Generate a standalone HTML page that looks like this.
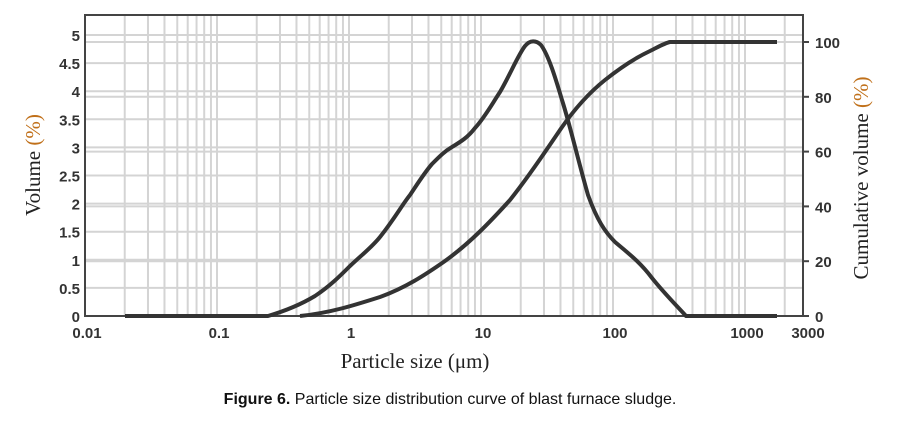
<!DOCTYPE html>
<html><head><style>
body{margin:0;background:#fff;}
svg text{font-family:"Liberation Sans",sans-serif;}
svg text.serif{font-family:"Liberation Serif",serif;}
</style></head><body>
<svg width="902" height="418" viewBox="0 0 902 418" xmlns="http://www.w3.org/2000/svg">
<g stroke="#d4d4d4" stroke-width="2" id="grid"></g>
<rect x="85" y="15" width="718" height="301" fill="none" stroke="#444" stroke-width="2"/>
<g id="ticks" stroke="#444" stroke-width="2"></g>
<g id="lab" font-size="15" font-weight="bold" fill="#333"></g>
<path d="M125,316 L268,316 C285,311 300,305 315,296 C330,286 340,276 350,266 C365,252 372,247 380,237 C395,218 402,205 410,195 C420,180 425,172 432,164 C440,156 445,151 452,147 C462,141 468,137 475,128 C485,117 492,104 500,92 C510,75 518,55 525,46 C530,40 536,40 541,45 C549,56 556,80 562,100 C570,125 578,160 588,195 C597,220 605,232 615,242 C628,253 640,262 652,278 C664,293 676,305 686,316 L777,316"
 fill="none" stroke="#333" stroke-width="4" stroke-linejoin="round"/>
<path d="M300,316 C330,313 355,305 380,297 C405,288 425,275 445,261 C470,243 490,222 510,200 C530,175 545,152 560,130 C575,108 590,92 605,80 C620,68 635,58 650,51 C660,46 665,43 670,42 L777,42"
 fill="none" stroke="#333" stroke-width="4" stroke-linejoin="round"/>
<text class="serif" x="40" y="165" font-size="21" fill="#222" text-anchor="middle" transform="rotate(-90 40 165)">Volume <tspan fill="#c0701a">(%)</tspan></text>
<text class="serif" x="868" y="178" font-size="21" fill="#222" text-anchor="middle" transform="rotate(-90 868 178)">Cumulative volume <tspan fill="#c0701a">(%)</tspan></text>
<text class="serif" x="415" y="368" font-size="21" fill="#222" text-anchor="middle">Particle size (μm)</text>
<text x="450" y="404" font-size="16" fill="#111" text-anchor="middle"><tspan font-weight="bold">Figure 6.</tspan> Particle size distribution curve of blast furnace sludge.</text>
</svg>
<script>
var g=document.getElementById('grid'),t=document.getElementById('ticks'),l=document.getElementById('lab');
var ns='http://www.w3.org/2000/svg';
function ln(p,a,b,c,d){var e=document.createElementNS(ns,'line');e.setAttribute('x1',a);e.setAttribute('y1',b);e.setAttribute('x2',c);e.setAttribute('y2',d);p.appendChild(e);}
function tx(s,x,y,a){var e=document.createElementNS(ns,'text');e.textContent=s;e.setAttribute('x',x);e.setAttribute('y',y);e.setAttribute('text-anchor',a);l.appendChild(e);}
function X(v){return 85+132*(Math.log10(v)+2);}
for(var d=0.01;d<2000;d*=10){for(var m=1;m<10;m++){var v=d*m;var x=X(v);if(x>86&&x<802)ln(g,x,15,x,316);}}
for(var i=1;i<=10;i++){var y=316-28.1*i;ln(g,85,y,803,y);}
for(var i=1;i<=5;i++){var y=316-54.8*i;ln(g,85,y,803,y);}
for(var i=0;i<=10;i++){var y=316-28.1*i;tx(i==0?'0':(i/2).toString(),80,y+6,'end');}
for(var i=0;i<=5;i++){var y=316-54.8*i;ln(t,803,y,809,y);tx((i*20).toString(),815,y+6,'start');}
var xs=[['0.01',0.01],['0.1',0.1],['1',1],['10',10],['100',100],['1000',1000]];
xs.forEach(function(p){tx(p[0],X(p[1])+2,338,'middle');});
tx('3000',808,338,'middle');
</script>
</body></html>
